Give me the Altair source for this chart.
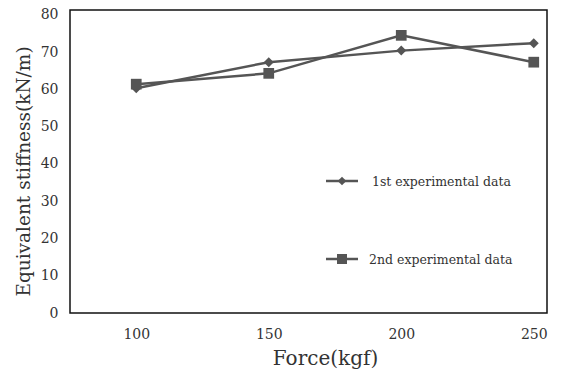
import altair as alt
import pandas as pd

force = [100, 150, 200, 250]
first = [60.3, 67.3, 70.4, 72.4]
second = [61.4, 64.3, 74.5, 67.3]
series_names = ["1st experimental data", "2nd experimental data"]
y_ticks = [0, 10, 20, 30, 40, 50, 60, 70, 80]
x_ticks = [100, 150, 200, 250]

df = pd.DataFrame({
    "force": force * 2,
    "stiff": first + second,
    "series": [series_names[0]] * 4 + [series_names[1]] * 4,
})

FONT = "DejaVu Serif"
COL = "#555555"
W, H = 477, 303

x = alt.X("force:Q", title="Force(kgf)",
          scale=alt.Scale(domain=[75, 255], nice=False, zero=False),
          axis=alt.Axis(values=x_ticks, grid=False, ticks=False, domain=False,
                        labelFont=FONT, labelFontSize=14, labelColor="#333333",
                        labelPadding=14, labelFlush=False, titleFont=FONT, titleFontSize=20,
                        titleFontWeight="normal", titleColor="#333333", titlePadding=7,
                        titleX=255))
y = alt.Y("stiff:Q", title="Equivalent stiffness(kN/m)",
          scale=alt.Scale(domain=[0, 81.3], nice=False),
          axis=alt.Axis(values=y_ticks, grid=False, ticks=False, domain=False,
                        labelFont=FONT, labelFontSize=14, labelColor="#333333",
                        labelPadding=12, labelFlush=False, titleFont=FONT, titleFontSize=18.5,
                        titleFontWeight="normal", titleColor="#333333", titlePadding=7,
                        titleY=161))

base = alt.Chart(df)
lines = base.mark_line(color=COL, strokeWidth=2.5).encode(x=x, y=y, detail="series:N")
pts = base.mark_point(filled=True, color=COL, opacity=1).encode(
    x=x, y=y,
    shape=alt.Shape("series:N", scale=alt.Scale(domain=series_names, range=["diamond", "square"]), legend=None),
    size=alt.Size("series:N", scale=alt.Scale(domain=series_names, range=[100, 115]), legend=None),
)

legend_layers = []
leg_y = [171, 249]
leg_tx = [302, 299]
shapes = ["diamond", "square"]
sizes = [75, 100]
for i, name in enumerate(series_names):
    d = alt.Chart(pd.DataFrame({"label": [name]}))
    legend_layers.append(d.mark_rule(color=COL, strokeWidth=2.5).encode(
        x=alt.value(256), x2=alt.value(288), y=alt.value(leg_y[i])))
    legend_layers.append(d.mark_point(filled=True, color=COL, opacity=1, shape=shapes[i], size=sizes[i]).encode(
        x=alt.value(272), y=alt.value(leg_y[i])))
    legend_layers.append(d.mark_text(font=FONT, fontSize=12.5, color="#333333", align="left", baseline="middle").encode(
        x=alt.value(leg_tx[i]), y=alt.value(leg_y[i] + 1), text="label:N"))

chart = alt.layer(lines, pts, *legend_layers).properties(
    width=W, height=H,
    autosize=alt.AutoSizeParams(type="none"),
    padding={"left": 70, "top": 10, "right": 21, "bottom": 61},
    background="white",
).configure_view(stroke="#111111", strokeWidth=1.5)

chart.save("out.html", embed_options={"renderer": "svg", "actions": False})
